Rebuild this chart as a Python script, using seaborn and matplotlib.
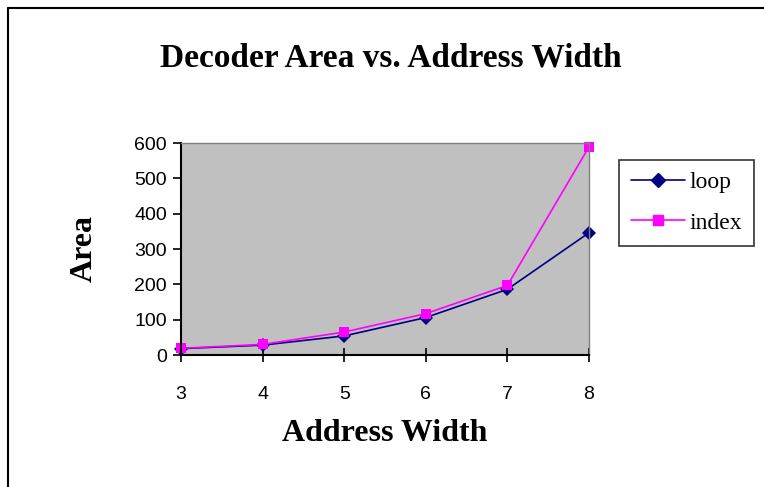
import numpy as np
import pandas as pd
import matplotlib
matplotlib.use("Agg")
import matplotlib.pyplot as plt
import seaborn as sns
from matplotlib.lines import Line2D

# values
address_width = [3, 4, 5, 6, 7, 8]
loop_area = [18, 28, 54, 106, 186, 346]
index_area = [19, 30, 65, 117, 197, 589]

df = pd.DataFrame({
    "Address Width": address_width * 2,
    "Area": loop_area + index_area,
    "series": ["loop"] * len(address_width) + ["index"] * len(address_width),
})

sns.set_style("white")
plt.rcParams["font.family"] = ["Liberation Sans", "DejaVu Sans"]
plt.rcParams["text.color"] = "black"
plt.rcParams["axes.labelcolor"] = "black"
plt.rcParams["xtick.color"] = "black"
plt.rcParams["ytick.color"] = "black"

fig = plt.figure(figsize=(7.64, 4.87), dpi=100)
ax = fig.add_axes([181 / 764, 1 - 355 / 487, 408 / 764, 212 / 487])
ax.set_facecolor("#c0c0c0")

sns.lineplot(data=df, x="Address Width", y="Area", hue="series", style="series",
             palette={"loop": "#000080", "index": "#ff00ff"},
             markers={"loop": "D", "index": "s"}, dashes=False,
             markersize=7, markeredgewidth=0, linewidth=1.2, ax=ax, clip_on=False)

ax.set_xlim(3, 8)
ax.set_ylim(0, 600)
ax.set_xticks(address_width)
ax.set_yticks(range(0, 601, 100))
ax.tick_params(axis="y", direction="out", length=6, width=1.2, labelsize=14, pad=4, left=True)
ax.tick_params(axis="x", direction="inout", length=10, width=1.2, labelsize=14, pad=17, bottom=True)
for s in ["left", "bottom"]:
    ax.spines[s].set_color("black")
    ax.spines[s].set_linewidth(1.5)
for s in ["top", "right"]:
    ax.spines[s].set_color("#808080")
    ax.spines[s].set_linewidth(1)

serif = ["Liberation Serif", "DejaVu Serif"]
ax.set_xlabel("Address Width", family=serif, fontsize=23, fontweight="bold", labelpad=12)
ax.set_ylabel("Area", family=serif, fontsize=23, fontweight="bold", labelpad=26)
fig.text(391 / 764, 1 - 58 / 487, "Decoder Area vs. Address Width", family=serif,
         fontsize=24, fontweight="bold", ha="center", va="center")

ax.get_legend().remove()
handles = [Line2D([], [], color="#000080", marker="D", markersize=7, lw=1.2),
           Line2D([], [], color="#ff00ff", marker="s", markersize=7, lw=1.2)]
leg = fig.legend(handles, ["loop", "index"], loc="upper left",
                 bbox_to_anchor=(619 / 764, 1 - 160 / 487), frameon=True, fancybox=False,
                 prop={"family": serif, "size": 17}, handlelength=2.3, handletextpad=0.2,
                 borderpad=0.5, labelspacing=0.8, borderaxespad=0)
leg.get_frame().set_edgecolor("black")
leg.get_frame().set_linewidth(1.2)

# chart border
fig.add_artist(Line2D([8 / 764, 8 / 764], [0, 1 - 8 / 487], color="black", lw=1.5))
fig.add_artist(Line2D([8 / 764, 1], [1 - 8 / 487, 1 - 8 / 487], color="black", lw=1.5))

fig.savefig("out.png", dpi=100)
